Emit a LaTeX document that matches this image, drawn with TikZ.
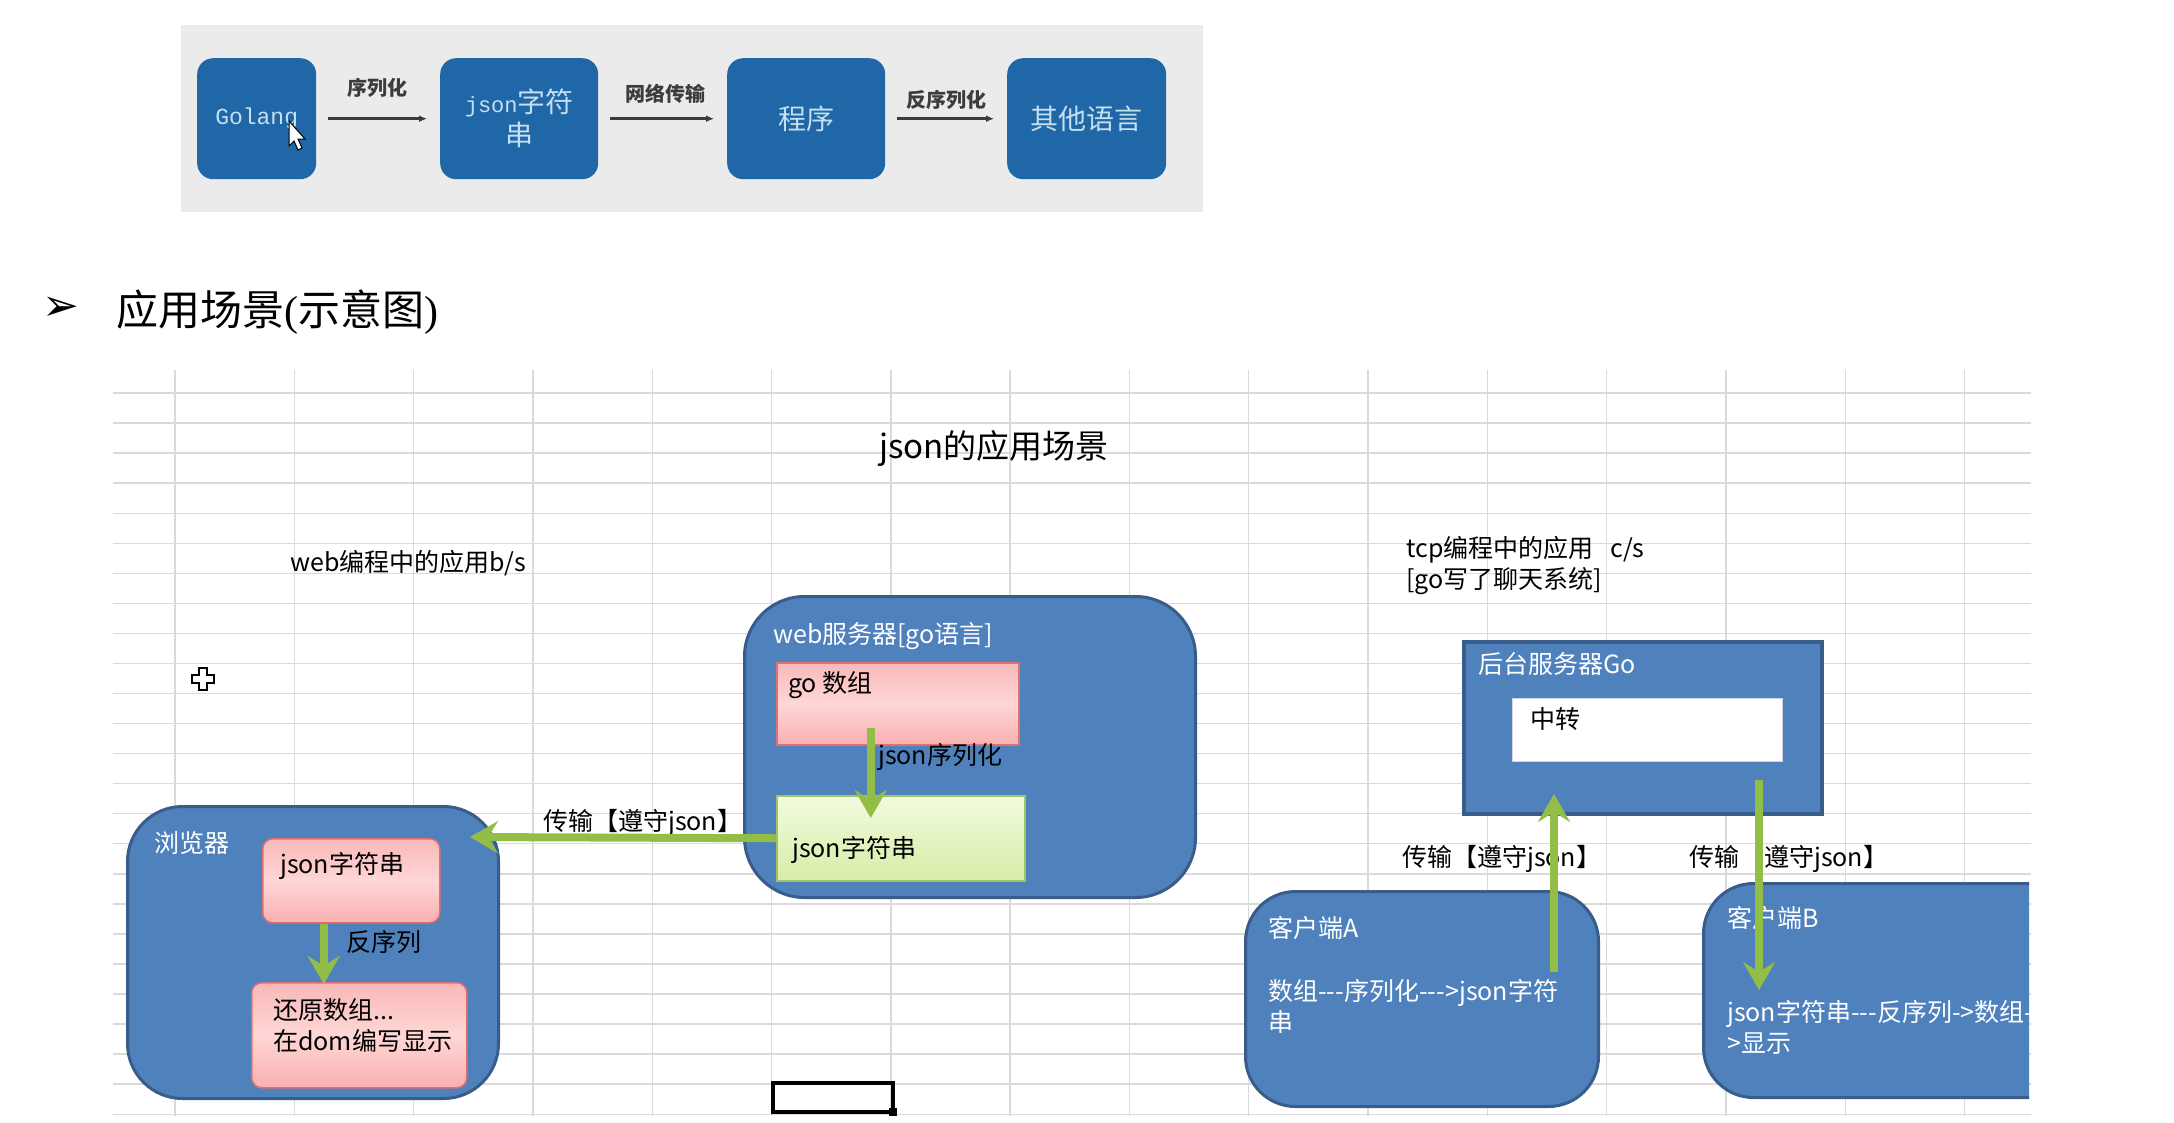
\documentclass[tikz,border=0pt]{standalone}
\usepackage{fontspec}
\setmainfont{Noto Sans CJK SC}
\newfontfamily\monof{Liberation Mono}
\newfontfamily\dejav{DejaVu Sans}
\newfontfamily\lserif{Liberation Serif}
\usetikzlibrary{arrows.meta}
\definecolor{blu}{RGB}{79,129,189}
\definecolor{bluD}{RGB}{56,93,138}
\definecolor{topblu}{RGB}{31,103,166}
\definecolor{toptxt}{RGB}{196,222,242}
\definecolor{topbg}{RGB}{235,235,235}
\definecolor{gr}{RGB}{146,190,72}
\definecolor{gridc}{RGB}{218,218,218}
\definecolor{pinkT}{RGB}{248,184,184}
\definecolor{pinkM}{RGB}{255,214,214}
\definecolor{pinkB}{RGB}{249,176,176}
\definecolor{pinkD}{RGB}{222,112,112}
\definecolor{grnT}{RGB}{242,251,222}
\definecolor{grnB}{RGB}{214,237,168}
\definecolor{grnD}{RGB}{160,196,100}
\definecolor{dgray}{RGB}{60,60,60}
\newcommand\fl{\fontsize{25}{31}\selectfont}
\newcommand\hh{-\kern0pt}
\begin{document}
\begin{tikzpicture}[x=1pt,y=-1pt,
  gridline/.style={draw=gridc, line width=1.4pt},
  topbox/.style={anchor=north west, fill=topblu, rounded corners=16pt, inner sep=0, minimum height=121pt},
  toptext/.style={inner sep=0, text=toptxt, align=center, font=\fontsize{28}{33}\selectfont},
  toplab/.style={inner sep=0, text=dgray, font=\fontsize{20}{20}\selectfont\bfseries},
  toparrow/.style={draw=dgray, line width=2.5pt, -{Latex[length=8pt,width=7pt]}, shorten <=12pt, shorten >=13pt},
  bluebox/.style={anchor=north west, draw=bluD, line width=3pt, fill=blu, inner sep=0},
  pinkbox/.style={anchor=north west, draw=pinkD, line width=1.5pt, top color=pinkT, bottom color=pinkB, middle color=pinkM, inner sep=0},
  greenbox/.style={anchor=north west, draw=grnD, line width=1.5pt, top color=grnT, bottom color=grnB, inner sep=0},
  wlab/.style={inner sep=0, anchor=west, text=white, font=\fl, align=left},
  blab/.style={inner sep=0, anchor=west, text=black, font=\fl, align=left},
  garrow/.style={draw=gr, line width=8pt, -{Stealth[length=28pt,width=32pt,inset=10pt]}}
]
\useasboundingbox[fill=white] (0,0) rectangle (2174,1122);
\begin{scope}[shift={(-4,0)}]
% ---------- top screenshot ----------
\fill[topbg] (185,25) rectangle (1207,212);
\node[topbox, minimum width=119pt] (golang) at (201,58) {};
\node[topbox, minimum width=158pt] (jsonbox) at (444,58) {};
\node[topbox, minimum width=158pt] (prog) at (731,58) {};
\node[topbox, minimum width=159pt] (other) at (1011,58) {};
\node[toptext] (golangt) at (golang.center) {{\fontsize{23}{33}\selectfont\monof Golang}};
\node[toptext] (jsonboxt) at (jsonbox.center) {{\fontsize{22}{33}\selectfont\monof json}字符\\串};
\node[toptext] (progt) at (prog.center) {程序};
\node[toptext] (othert) at (other.center) {其他语言};
\draw[toparrow] (golang.east) -- (jsonbox.west);
\draw[toparrow] (jsonbox.east) -- (prog.west);
\draw[toparrow] (prog.east) -- (other.west);
\node[toplab] (l1) at (381,88) {序列化};
\node[toplab] (l2) at (669,94) {网络传输};
\node[toplab] (l3) at (950,100) {反序列化};
% pointer cursor
\draw[fill=white, line width=1pt] (293,121) -- (293,146) -- (298,141) -- (302,150) -- (306,148) -- (302,139) -- (309,139) -- cycle;

% ---------- heading ----------
\node[inner sep=0, anchor=west] (bullet) at (46,309) {\dejav\fontsize{44}{44}\selectfont ➢};
\node[inner sep=0, anchor=west] (heading) at (120,312) {\fontsize{42}{42}\selectfont 应用场景{\lserif(}示意图{\lserif)}};

% ---------- grid ----------
\foreach \k in {0,...,24} \draw[gridline] (117,{393+30.05*\k}) -- (2035,{393+30.05*\k});
\foreach \k in {0,...,15} \draw[gridline] ({179+119.3*\k},370) -- ({179+119.3*\k},1116);

% ---------- lower diagram ----------
\node[inner sep=0] (title) at (998,448) {\fontsize{33}{33}\selectfont json的应用场景};
\node[blab] (webapp) at (294,563) {web编程中的应用b/s};
\node[blab] (tcp1) at (1410,550) {tcp编程中的应用\ \ \ c/s};
\node[blab] (tcp2) at (1410,581) {[go写了聊天系统]};

% excel cross cursor
\draw[fill=white, line width=1.6pt] (203,668) -- (211,668) -- (211,675) -- (218,675) -- (218,683) -- (211,683) -- (211,690) -- (203,690) -- (203,683) -- (196,683) -- (196,675) -- (203,675) -- cycle;

% web server
\node[bluebox, rounded corners=60pt, minimum width=451pt, minimum height=301pt] (websrv) at (747,595) {};
\node[wlab] (websrvl) at (777,636) {web服务器[go语言]};
\node[pinkbox, minimum width=242pt, minimum height=82pt] (godata) at (780,662) {};
\node[blab] (godatal) at (792,685) {go 数组};
\node[greenbox, minimum width=248pt, minimum height=85pt] (jsonstr) at (780,795) {};
\node[blab] (jsonstrl) at (796,850) {json字符串};
\node[blab] (serl) at (882,757) {json序列化};

% browser
\node[bluebox, rounded corners=55pt, minimum width=371pt, minimum height=292pt] (browser) at (130,805) {};
\node[wlab] (browserl) at (158,843) {浏览器};
\node[pinkbox, rounded corners=10pt, minimum width=177pt, minimum height=84pt] (bjson) at (266,838) {};
\node[blab] (bjsonl) at (284,866) {json字符串};
\node[pinkbox, rounded corners=10pt, minimum width=215pt, minimum height=105pt] (restore) at (255,982) {};
\node[blab] (restorel) at (277,1025) {还原数组...\\在dom编写显示};
\node[blab] (desl) at (350,942) {反序列};
\node[blab] (tr1) at (547,823) {传输【遵守json】};

% excel selection
\draw[line width=4pt] (777,1083) rectangle (897,1112);
\fill (893,1108) rectangle (901,1116);

% backend
\node[bluebox, line width=4pt, minimum width=358pt, minimum height=172pt] (backend) at (1466,640) {};
\node[wlab] (backendl) at (1482,664) {后台服务器Go};
\node[anchor=north west, fill=white, draw={rgb,255:red,205;green,214;blue,228}, line width=1pt, inner sep=0, minimum width=270pt, minimum height=63pt] (relay) at (1516,698) {};
\node[blab] (relayl) at (1534,719) {中转};

% client A
\node[bluebox, rounded corners=50pt, minimum width=353pt, minimum height=215pt] (clientA) at (1248,890) {};
\node[wlab] (clientAl) at (1272,928) {客户端A};
\node[wlab] (clientAt) at (1272,1006) {数组\hh\hh\hh 序列化\hh\hh\hh>json字符\\串};

% client B (clipped at sheet edge)
\begin{scope}
\clip (0,0) rectangle (2033,1122);
\node[bluebox, rounded corners=50pt, minimum width=400pt, minimum height=214pt] (clientB) at (1706,882) {};
\node[wlab] (clientBl) at (1731,918) {客户端B};
\node[wlab] (clientBt) at (1731,1027) {json字符串\hh\hh\hh 反序列\hh>数组\hh\\>显示};
\end{scope}
\node[blab] (tr2) at (1406,859) {传输【遵守json】};
\node[blab] (tr3) at (1693,859) {传输【遵守json】};

% ---------- green arrows ----------
\coordinate (btip) at (474,837);
\coordinate (upS) at (1558,972);
\coordinate (upE) at (1558,794);
\coordinate (dnS) at (1763,780);
\coordinate (dnE) at (1763,990);
\draw[garrow] ([xshift=-27pt,yshift=18pt]godata.south) -- ([xshift=-30pt,yshift=-23pt]jsonstr.north);
\draw[garrow] (jsonstr.west) -- (btip);
\draw[garrow] ([xshift=-27.5pt]bjson.south) -- ([xshift=-35.5pt,yshift=-2pt]restore.north);
\draw[garrow] (upS) -- (upE);
\draw[garrow] (dnS) -- (dnE);
\end{scope}
\end{tikzpicture}
\end{document}
